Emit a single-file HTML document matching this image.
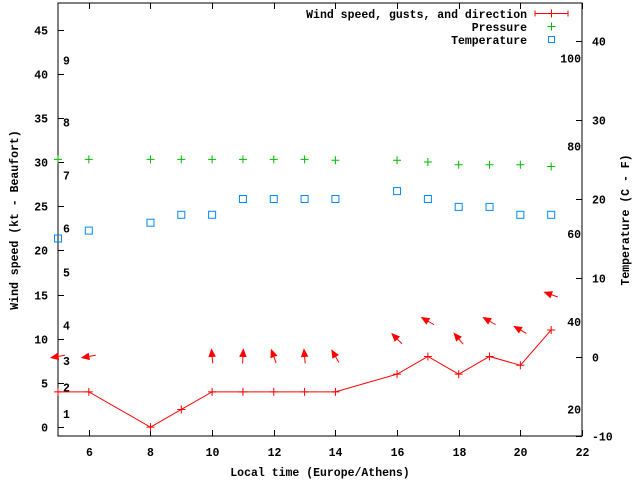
<!DOCTYPE html>
<html><head><meta charset="utf-8"><style>
html,body{margin:0;padding:0;background:#fff}
svg{display:block}
text{font-family:"Liberation Mono",monospace;font-weight:bold;font-size:11.5px;fill:#000}
</style></head><body>
<svg id="chart" width="640" height="480" viewBox="0 0 640 480" xmlns="http://www.w3.org/2000/svg">
<g id="axes"></g>
<g id="marks"></g>
<text transform="translate(18,220) rotate(-90)" text-anchor="middle">Wind speed (kt - Beaufort)</text>
<text transform="translate(629,220) rotate(-90)" text-anchor="middle">Temperature (C - F)</text>
<text x="320" y="476" text-anchor="middle">Local time (Europe/Athens)</text>
<g>
<text x="527" y="18" text-anchor="end">Wind speed, gusts, and direction</text>
<path d="M535 13.5H568M535 10.5V16.5M568 10.5V16.5M551.5 9.5V17.5" stroke="#f00" fill="none"/>
<text x="527" y="31" text-anchor="end">Pressure</text>
<path d="M547.5 26.5H555.5M551.5 22.5V30.5" stroke="#0b0" fill="none"/>
<text x="527" y="44" text-anchor="end">Temperature</text>
<rect x="548.5" y="36.5" width="6" height="6" stroke="#08f" fill="none"/>
</g>
</svg>
<script>
const hours=[5,6,8,9,10,11,12,13,14,16,17,18,19,20,21];
const windKt=[4,4,0,2,4,4,4,4,4,6,8,6,8,7,11];
const pressure=[30.3,30.3,30.3,30.3,30.3,30.3,30.3,30.3,30.2,30.2,30.0,29.7,29.7,29.7,29.5];
const tempC=[15,16,17,18,18,20,20,20,20,21,20,19,19,18,18];
const arrowHours=[5,6,10,11,12,13,14,16,17,18,19,20,21];
const arrowDir=[260,260,355,3,340,355,330,315,300,320,300,300,290];
const xTicks=[6,8,10,12,14,16,18,20,22];
const yTicks=[0,5,10,15,20,25,30,35,40,45];
const cTicks=[-10,0,10,20,30,40];
const fTicks=[20,40,60,80,100];
const beaufortKt=[1,2,3,4,5,6,7,8,9];
const beaufortPos=[1.5,4.5,7.5,11.5,17.5,22.5,28.5,34.5,41.5];
const L=58,R=582,T=3,B=436;
const xs=h=>L+(h-5)*(R-L)/17;
const ys=v=>B-(v+1)*(B-T)/49;
const yc=c=>B-(c+10)*7.9;
const yf=f=>yc((f-32)*5/9);
const NS='http://www.w3.org/2000/svg';
function mk(tag,attrs,parent){const e=document.createElementNS(NS,tag);for(const k in attrs)e.setAttribute(k,attrs[k]);parent.appendChild(e);return e;}
const ax=document.getElementById('axes'),mg=document.getElementById('marks');
const frame=mk('path',{d:`M${L} ${T}V${B}H${R}V${T}Z`,stroke:'#000',fill:'none'},ax);


xTicks.forEach(t=>{const x=Math.round(xs(t))+.5;
 const p=mk('path',{d:`M${x} ${B}v-6M${x} ${T}v6`,stroke:'#000'},ax);
 
 
 const tx=mk('text',{x:x,y:B+20,'text-anchor':'middle'},ax);tx.textContent=t;
 
 });
yTicks.forEach(t=>{const y=Math.round(ys(t))+.5;
 const p=mk('path',{d:`M${L} ${y}h6`,stroke:'#000'},ax);
 
 
 const tx=mk('text',{x:L-10,y:y+4,'text-anchor':'end'},ax);tx.textContent=t;
 
 });
cTicks.forEach(t=>{const y=Math.round(yc(t))+.5;
 const p=mk('path',{d:`M${R} ${y}h-6`,stroke:'#000'},ax);
 
 
 const tx=mk('text',{x:R+10,y:y+4,'text-anchor':'start'},ax);tx.textContent=t;
 
 });
fTicks.forEach(t=>{const tx=mk('text',{x:R-1,y:yf(t)+4,'text-anchor':'end'},ax);tx.textContent=t;
 
 });
beaufortKt.forEach((b,i)=>{const tx=mk('text',{x:63,y:ys(beaufortPos[i])+4},ax);tx.textContent=b;
 
 });
// wind line
const pts=hours.map((h,i)=>`${xs(h)},${ys(windKt[i])}`);
const wl=mk('polyline',{points:`${L},${ys(windKt[0])} `+pts.join(' '),stroke:'#f00',fill:'none'},mg);


hours.forEach((h,i)=>{const x=xs(h),y=ys(windKt[i]);
 const p=mk('path',{d:`M${x-4} ${y}h8M${x} ${y-4}v8`,stroke:'#f00'},mg);
 
 });
// pressure
hours.forEach((h,i)=>{const x=xs(h),y=ys(pressure[i]);
 const p=mk('path',{d:`M${x-4} ${y}h8M${x} ${y-4}v8`,stroke:'#0b0'},mg);
 
 });
// temperature
hours.forEach((h,i)=>{const x=xs(h),y=yc(tempC[i]);
 const r=mk('rect',{x:x-3.5,y:y-3.5,width:7,height:7,stroke:'#08f',fill:'none'},mg);
 
 });
// direction arrows
arrowHours.forEach((h,i)=>{const idx=hours.indexOf(h);const cx=xs(h),cy=ys(windKt[idx]+4);
 const a=arrowDir[i]*Math.PI/180,dx=Math.sin(a),dy=-Math.cos(a),len=14;
 const hx=cx+dx*len/2,hy=cy+dy*len/2,tx=cx-dx*len/2,ty=cy-dy*len/2;
 const px=-dy,py=dx;
 const g=mk('g',{},mg);
 
 
 mk('line',{x1:tx,y1:ty,x2:hx,y2:hy,stroke:'#f00'},g);
 mk('polygon',{points:`${hx},${hy} ${hx-dx*7+px*3},${hy-dy*7+py*3} ${hx-dx*7-px*3},${hy-dy*7-py*3}`,fill:'#f00',stroke:'#f00'},g);});
</script>
</body></html>
